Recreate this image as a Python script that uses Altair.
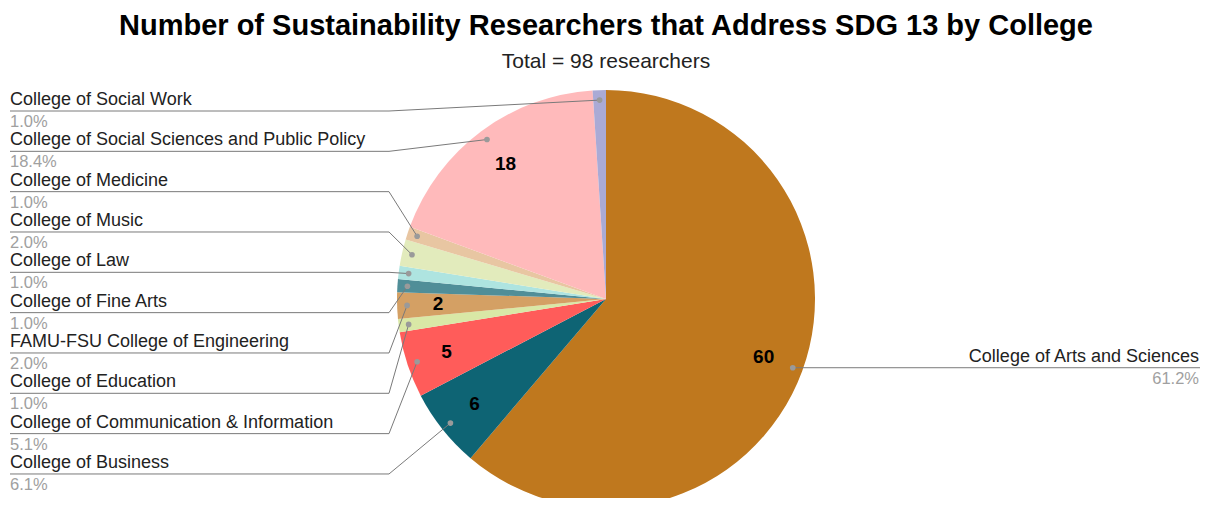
import altair as alt
import numpy as np
import pandas as pd

# ---- data (clockwise from 12 o'clock) ----
colleges = [
    "College of Arts and Sciences",
    "College of Business",
    "College of Communication & Information",
    "College of Education",
    "FAMU-FSU College of Engineering",
    "College of Fine Arts",
    "College of Law",
    "College of Music",
    "College of Medicine",
    "College of Social Sciences and Public Policy",
    "College of Social Work",
]
counts = [60, 6, 5, 1, 2, 1, 1, 2, 1, 18, 1]
colors = [
    "#BF781E", "#0E6474", "#FF5C5A", "#D9E8A6", "#D4A064", "#508E98",
    "#AEE4E0", "#E2EBBC", "#E8C6A2", "#FFBABB", "#AAAAD5",
]
label_in_slice = [True, True, True, False, True, False, False, False, False, True, False]

title_text = "Number of Sustainability Researchers that Address SDG 13 by College"
subtitle_text = "Total = 98 researchers"

# ---- layout constants ----
W, H = 1192, 490
CX, CY, R = 598, 291, 209
DOT_R = 199
FONT = "Liberation Sans"

total = sum(counts)
n = len(colleges)
df = pd.DataFrame({"college": colleges, "count": counts, "idx": list(range(n))})
df["pct"] = [f"{c / total * 100:.1f}%" for c in counts]
df["inlabel"] = [str(c) if s else "" for c, s in zip(counts, label_in_slice)]

mid = (df["count"].cumsum() - df["count"] / 2) / total * 2 * np.pi
df["dot_x"] = CX + DOT_R * np.sin(mid)
df["dot_y"] = CY - DOT_R * np.cos(mid)

# label rows: first slice on the right, the rest stacked on the left
ly, hx1, hx2, bx, tx = [], [], [], [], []
for i in range(n):
    if i == 0:
        y = float(df.loc[i, "dot_y"])
        ly.append(y); hx1.append(832); hx2.append(W); bx.append(832); tx.append(W - 1)
    else:
        k = (n - 1) - i
        y = 103 + 40.33 * k
        ly.append(y); hx1.append(2); hx2.append(381); bx.append(381); tx.append(2)
df["ly"] = ly
df["hx1"] = hx1
df["hx2"] = hx2
df["bx"] = bx
df["tx"] = tx
df["name_y"] = df["ly"] - 6
df["pct_y"] = df["ly"] + 16

base = alt.Chart(df)
theta = alt.Theta("count:Q", stack=True)
order = alt.Order("idx:Q")

arcs = base.mark_arc(outerRadius=R).encode(
    theta=theta,
    order=order,
    color=alt.Color("college:N", scale=alt.Scale(domain=colleges, range=colors), legend=None),
    x=alt.value(CX),
    y=alt.value(CY),
)

inner = base.mark_text(radius=168, fontSize=19, fontWeight="bold", font=FONT, color="#000000").encode(
    theta=theta, order=order, text="inlabel:N", x=alt.value(CX), y=alt.value(CY)
)

hrule = base.mark_rule(color="#7a7a7a", strokeWidth=1).encode(
    x=alt.X("hx1:Q", scale=None), x2="hx2:Q", y=alt.Y("ly:Q", scale=None)
)
srule = base.mark_rule(color="#7a7a7a", strokeWidth=1).encode(
    x=alt.X("bx:Q", scale=None), x2="dot_x:Q", y=alt.Y("ly:Q", scale=None), y2="dot_y:Q"
)
dots = base.mark_circle(size=32, color="#9a9a9a", opacity=1).encode(
    x=alt.X("dot_x:Q", scale=None), y=alt.Y("dot_y:Q", scale=None)
)

left = base.transform_filter("datum.idx > 0")
right = base.transform_filter("datum.idx == 0")

NAME_FS, PCT_FS = 18, 16.5

name_l = left.mark_text(align="left", baseline="alphabetic", fontSize=NAME_FS, font=FONT, color="#222222").encode(
    x=alt.X("tx:Q", scale=None), y=alt.Y("name_y:Q", scale=None), text="college:N"
)
pct_l = left.mark_text(align="left", baseline="alphabetic", fontSize=PCT_FS, font=FONT, color="#a0a0a0").encode(
    x=alt.X("tx:Q", scale=None), y=alt.Y("pct_y:Q", scale=None), text="pct:N"
)
name_r = right.mark_text(align="right", baseline="alphabetic", fontSize=NAME_FS, font=FONT, color="#222222").encode(
    x=alt.X("tx:Q", scale=None), y=alt.Y("name_y:Q", scale=None), text="college:N"
)
pct_r = right.mark_text(align="right", baseline="alphabetic", fontSize=PCT_FS, font=FONT, color="#a0a0a0").encode(
    x=alt.X("tx:Q", scale=None), y=alt.Y("pct_y:Q", scale=None), text="pct:N"
)

titles = pd.DataFrame({"t": [title_text], "s": [subtitle_text]})
title = alt.Chart(titles).mark_text(
    align="center", baseline="alphabetic", fontSize=29, fontWeight="bold", font=FONT, color="#000000"
).encode(text="t:N", x=alt.value(598), y=alt.value(26.5))
subtitle = alt.Chart(titles).mark_text(
    align="center", baseline="alphabetic", fontSize=21, font=FONT, color="#222222"
).encode(text="s:N", x=alt.value(598), y=alt.value(60))

chart = alt.layer(
    arcs, inner, hrule, srule, dots, name_l, pct_l, name_r, pct_r, title, subtitle
).properties(width=W, height=H, padding=0, autosize="none").configure_view(stroke=None)

chart.save("out.html", embed_options={"renderer": "svg", "actions": False})
